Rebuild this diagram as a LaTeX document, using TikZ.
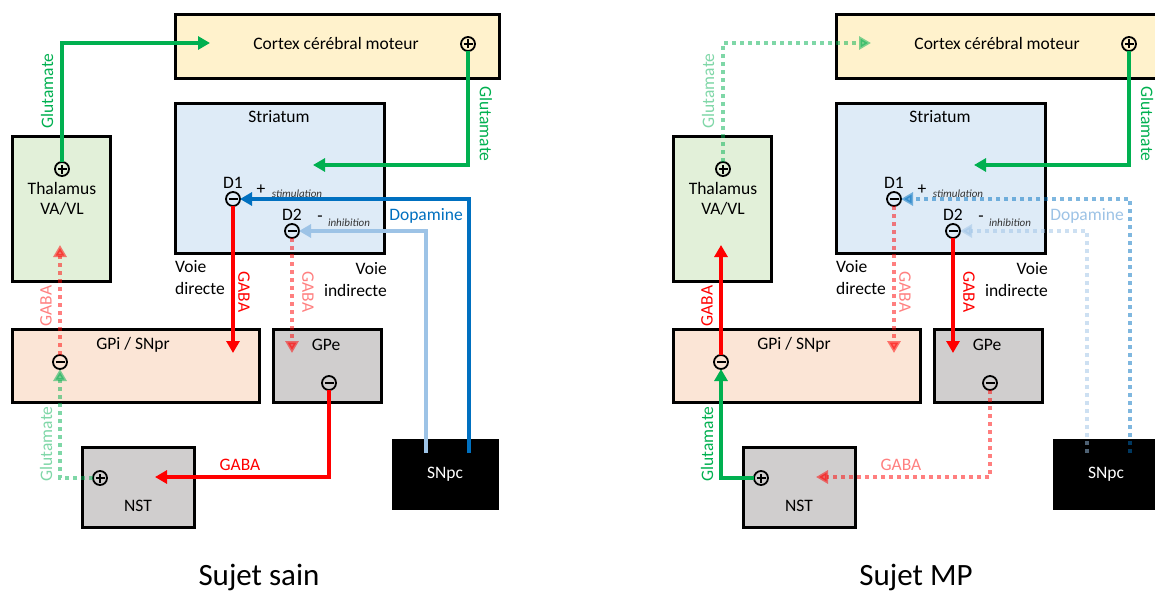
\documentclass[tikz,border=0pt]{standalone}
\usepackage{fontspec}
\setmainfont{Carlito}
\usetikzlibrary{arrows.meta}
\definecolor{cgreen}{HTML}{00B050}
\definecolor{cred}{HTML}{FF0000}
\definecolor{cblue}{HTML}{0070C0}
\definecolor{clblue}{HTML}{9DC3E6}
\definecolor{cctx}{HTML}{FFF2CC}
\definecolor{cstr}{HTML}{DEEBF7}
\definecolor{cthal}{HTML}{E2F0D9}
\definecolor{cgpi}{HTML}{FBE5D6}
\definecolor{cgray}{HTML}{D0CECE}
\newcommand\drawpanel[2]{%
 % boxes
 \node[box, fill=cctx, minimum width=324pt, minimum height=64pt] (ctx) at (175,15) {};
 \node[box, fill=cstr, minimum width=209pt, minimum height=149pt] (str) at (175,104) {};
 \node[box, fill=cthal, minimum width=98pt, minimum height=145pt] (thal) at (12,136) {};
 \node[box, fill=cgpi, minimum width=247pt, minimum height=73pt] (gpi) at (12,329) {};
 \node[box, fill=cgray, minimum width=108pt, minimum height=73pt] (gpe) at (273,329) {};
 \node[box, fill=cgray, minimum width=112pt, minimum height=80pt] (nst) at (82,447) {};
 \node[box, draw=none, fill=black, minimum width=107pt, minimum height=71pt] (snpc) at (392,439) {};
 % texts
 \node[lbl] (tctx) at (336,43) {Cortex cérébral moteur};
 \node[lbl] (tstr) at (279,117) {Striatum};
 \node[lbl] (tth1) at (62,188) {Thalamus};
 \node[lbl] (tth2) at (62,209) {VA/VL};
 \node[lbl] (tgpi) at (133,345) {GPi / SNpr};
 \node[lbl] (tgpe) at (326,345) {GPe};
 \node[lbl] (tnst) at (138,506) {NST};
 \node[lbl, text=white] (tsnpc) at (445,474) {SNpc};
 \node[lbl] (td1) at (233,183) {D1};
 \node[lbl] (td2) at (292,215) {D2};
 \node[lbl] (tplus) at (261,190) {+};
 \node[sml] (tstim) at (297,194) {stimulation};
 \node[lbl] (tminus) at (320,219) {-};
 \node[sml] (tinh) at (349,223) {inhibition};
 \node[lbl, anchor=west] (tv1) at (175,267) {Voie};
 \node[lbl, anchor=west] (tv2) at (175,288) {directe};
 \node[lbl, anchor=east] (tv3) at (387,269) {Voie};
 \node[lbl, anchor=east] (tv4) at (387,290) {indirecte};
 % signs
 \node[plussign] (thp) at (62,169) {};
 \node[plussign] (cxp) at (468,44) {};
 \node[minussign] (d1m) at (233,199) {};
 \node[minussign] (d2m) at (292,231) {};
 \node[minussign] (gpim) at (60,362) {};
 \node[minussign] (gpem) at (329,383) {};
 \node[plussign] (nstp) at (100,478) {};
 % free ends
 \coordinate (cA) at (210,43);
 \coordinate (cB) at (313,165);
 \coordinate (cC) at (469,453);
 \coordinate (cD) at (426,453);
 \coordinate (cE) at (233,353);
 \coordinate (cF) at (292,353);
 \coordinate (cG) at (155,477);
 \coordinate (cH) at (60,245);
 % connectors
 \draw[aThCx] (thp) |- (cA);
 \draw[aCxSt] (cxp) |- (cB);
 \draw[aDa1] (cC) |- (d1m);
 \draw[aDa2] (cD) |- (d2m);
 \draw[aD1] (d1m) -- (cE);
 \draw[aD2] (d2m) -- (cF);
 \draw[aGpeNst] (gpem) |- (cG);
 \draw[aNstGpi] (nstp) -| (gpim);
 \draw[aGpiTh] (gpim) -- (cH);
 % connector labels
 \node[lbl, rotate=90, lThCx] (lA) at (47,91) {Glutamate};
 \node[lbl, rotate=-90, lCxSt] (lB) at (486,124) {Glutamate};
 \node[lbl, lDa] (lC) at (426,216) {Dopamine};
 \node[lbl, rotate=-90, lD1] (lE) at (244,292) {GABA};
 \node[lbl, rotate=-90, lD2] (lF) at (308,292) {GABA};
 \node[lbl, lGpeNst] (lG) at (240,465) {GABA};
 \node[lbl, rotate=90, lNstGpi] (lH) at (46,444) {Glutamate};
 \node[lbl, rotate=90, lGpiTh] (lI) at (46,306) {GABA};
 % title
 \node[inner sep=0pt, font=\fontsize{31}{36}\selectfont] (title) at (#2,577) {#1};
}
\begin{document}
\begin{tikzpicture}[x=1pt,y=-1pt,
 box/.style={draw=black, line width=3pt, anchor=north west, inner sep=0pt, outer sep=0pt},
 lbl/.style={inner sep=0pt, font=\fontsize{17.5}{20}\selectfont},
 sml/.style={inner sep=0pt, text=black!80, font=\fontsize{11}{13}\selectfont\itshape},
 sign/.style={circle, draw=black, line width=1.8pt, minimum size=14pt, inner sep=0pt, outer sep=0pt},
 plussign/.style={sign, path picture={\draw[line width=1.6pt] ([xshift=-4.5pt]path picture bounding box.center) -- ([xshift=4.5pt]path picture bounding box.center) ([yshift=-4.5pt]path picture bounding box.center) -- ([yshift=4.5pt]path picture bounding box.center);}},
 minussign/.style={sign, path picture={\draw[line width=1.6pt] ([xshift=-4.5pt]path picture bounding box.center) -- ([xshift=4.5pt]path picture bounding box.center);}},
 arr/.style={line width=4pt, -{Triangle[length=12pt,width=13pt]}},
 faded/.style={dash pattern=on 4pt off 4pt, opacity=0.5},
]
\fill[white] (0,0) rectangle (1155,591);
\useasboundingbox (0,0) rectangle (1155,591);
\begin{scope}[name prefix=L-,
 aThCx/.style={arr, cgreen}, lThCx/.style={text=cgreen},
 aCxSt/.style={arr, cgreen}, lCxSt/.style={text=cgreen},
 aDa1/.style={arr, cblue}, aDa2/.style={arr, clblue}, lDa/.style={text=cblue},
 aD1/.style={arr, cred}, lD1/.style={text=cred},
 aD2/.style={arr, cred, faded}, lD2/.style={text=cred!50},
 aGpeNst/.style={arr, cred}, lGpeNst/.style={text=cred},
 aNstGpi/.style={arr, cgreen, faded}, lNstGpi/.style={text=cgreen!50},
 aGpiTh/.style={arr, cred, faded}, lGpiTh/.style={text=cred!50}]
\drawpanel{Sujet sain}{259}
\end{scope}
\begin{scope}[xshift=661pt, name prefix=R-,
 aThCx/.style={arr, cgreen, faded}, lThCx/.style={text=cgreen!50},
 aCxSt/.style={arr, cgreen}, lCxSt/.style={text=cgreen},
 aDa1/.style={arr, cblue, faded}, aDa2/.style={arr, clblue, faded}, lDa/.style={text=clblue},
 aD1/.style={arr, cred, faded}, lD1/.style={text=cred!50},
 aD2/.style={arr, cred}, lD2/.style={text=cred},
 aGpeNst/.style={arr, cred, faded}, lGpeNst/.style={text=cred!50},
 aNstGpi/.style={arr, cgreen}, lNstGpi/.style={text=cgreen},
 aGpiTh/.style={arr, cred}, lGpiTh/.style={text=cred}]
\drawpanel{Sujet MP}{255}
\end{scope}
\end{tikzpicture}
\end{document}
